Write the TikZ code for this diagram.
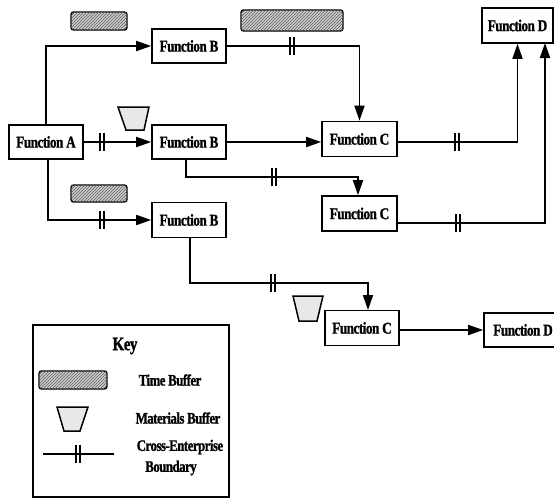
\documentclass[tikz,border=0pt]{standalone}
\usepackage{fontspec}
\newfontfamily\lbf{Liberation Serif Bold}[FakeStretch=0.8,LetterSpace=-3,FakeBold=1.2]
\usetikzlibrary{arrows.meta,patterns}
\begin{document}
\begin{tikzpicture}[x=1pt,y=-1pt,
  fbox/.style={draw,line width=1.6pt,minimum width=74pt,minimum height=34pt,inner sep=0pt,font=\fontsize{16.5}{17}\lbf},
  conn/.style={line width=1.8pt},
  arr/.style={conn,-{Triangle[length=15pt,width=10pt]}},
  tbuf/.style={draw,line width=1.4pt,rounded corners=2.5pt,fill=gray!40,postaction={pattern=north east lines,pattern color=gray!75!black}},
  mbuf/.style={draw,line width=1.5pt,fill=gray!18},
  keytxt/.style={font=\fontsize{16}{17}\lbf,inner sep=0pt,align=center},
  bm/.pic={\draw[line width=1.2pt] (-2,-9) -- (-2,9) (2,-9) -- (2,9);}
]
\useasboundingbox (0,0) rectangle (554,498);
\begin{scope}
\clip (0,0) rectangle (554,498);
% function nodes
\node[fbox] (A) at (46,142) {Function A};
\node[fbox] (B1) at (189,46) {Function B};
\node[fbox] (B2) at (189,142) {Function B};
\node[fbox,minimum height=35pt] (B3) at (189,220) {Function B};
\node[fbox,minimum width=75pt,minimum height=35pt] (C1) at (359.5,139) {Function C};
\node[fbox,minimum width=75pt,minimum height=35pt] (C2) at (359.5,213.5) {Function C};
\node[fbox,minimum height=35pt] (C3) at (362,328) {Function C};
\node[fbox,minimum width=71pt,minimum height=35pt] (D1) at (517.5,25.5) {Function D};
\node[fbox,minimum width=78pt,minimum height=34pt] (D2) at (523,330) {Function D};
% buffers
\node[tbuf,minimum width=56pt,minimum height=18pt,inner sep=0pt] (tb1) at (99,21) {};
\node[tbuf,minimum width=102pt,minimum height=21pt,inner sep=0pt] (tb2) at (292,20.5) {};
\node[tbuf,minimum width=56pt,minimum height=17pt,inner sep=0pt] (tb3) at (99,193.5) {};
\draw[mbuf] (118,107) -- (149,107) -- (144,130) -- (126,130) -- cycle;
\draw[mbuf] (293,296) -- (323,296) -- (317,321) -- (299,321) -- cycle;
% connectors
\draw[arr] (A.north) |- (B1.west);
\draw[arr] (A.east) -- (B2.west);
\pic at (102,142) {bm};
\draw[arr] ([xshift=2pt]A.south) |- (B3.west);
\pic at (102,220) {bm};
\draw[arr] (B1.east) -| (C1.north);
\pic at (292,46) {bm};
\draw[arr] (B2.east) -- (B2.east -| C1.west);
\coordinate (b2s) at ([xshift=-3pt]B2.south);
\draw[arr] (b2s) |- (270,177) -| ([xshift=-1.5pt]C2.north);
\pic at (274,177) {bm};
\draw[arr] (C1.east |- B2.east) -| (D1.south);
\pic at (457,142) {bm};
\coordinate (c2o) at (397,223);
\coordinate (d1b) at (545,43);
\draw[arr] (c2o) -| (d1b);
\pic at (458,223) {bm};
\coordinate (b3s) at ([xshift=1pt]B3.south);
\coordinate (c3n) at (368,310);
\draw[arr] (b3s) |- (280,283) -| (c3n);
\pic at (273,283) {bm};
\draw[arr] (C3.east |- D2.west) -- (D2.west);
% key
\node[draw,line width=1.6pt,minimum width=196pt,minimum height=172pt,inner sep=0pt] (key) at (131,411) {};
\node[font=\fontsize{19}{20}\lbf,inner sep=0pt] (keyt) at (125,346) {Key};
\node[tbuf,minimum width=68pt,minimum height=18pt,inner sep=0pt] (ktb) at (73,380) {};
\node[keytxt] (ktbt) at (170,380) {Time Buffer};
\draw[mbuf] (57,407) -- (88,407) -- (80,431) -- (64,431) -- cycle;
\node[keytxt] (kmbt) at (178,418) {Materials Buffer};
\coordinate (kl1) at (43,454);
\coordinate (kl2) at (114,454);
\draw[conn] (kl1) -- (kl2);
\pic at (78,454) {bm};
\node[keytxt] (kcb1) at (180,447) {Cross-Enterprise};
\node[keytxt] (kcb2) at (171,468) {Boundary};
\end{scope}
\end{tikzpicture}
\end{document}
